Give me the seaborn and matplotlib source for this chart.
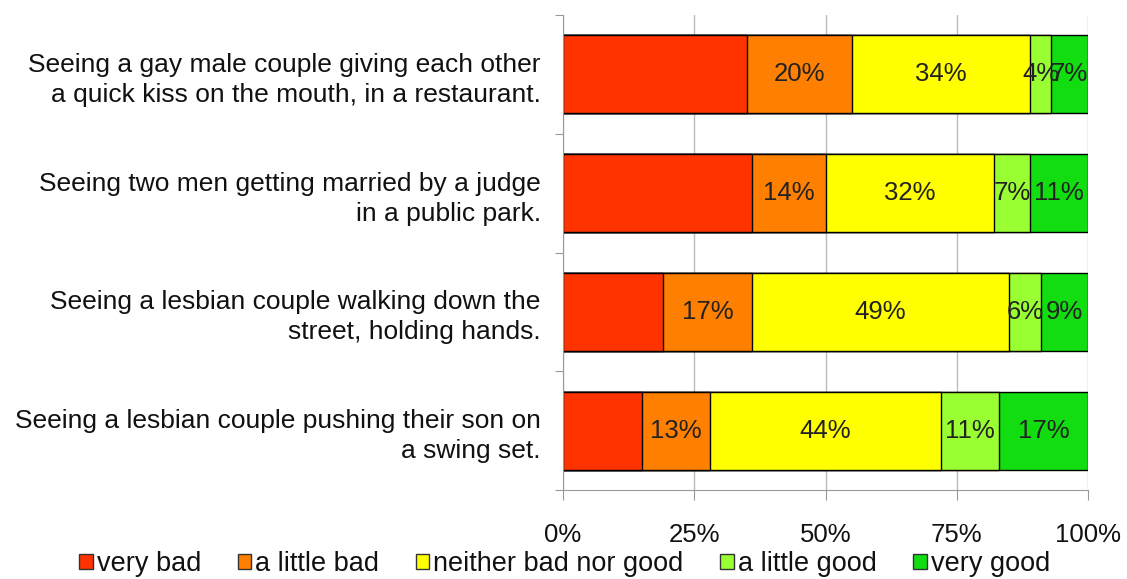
import numpy as np
import pandas as pd
import seaborn as sns
import matplotlib.pyplot as plt
from matplotlib.patches import Patch

sns.set_style('white')
plt.rcParams['font.family'] = ['Liberation Sans', 'DejaVu Sans']

statements = ['Seeing a gay male couple giving each other\na quick kiss on the mouth, in a restaurant.',
              'Seeing two men getting married by a judge\nin a public park.',
              'Seeing a lesbian couple walking down the\nstreet, holding hands.',
              'Seeing a lesbian couple pushing their son on\na swing set.']
responses = ['very bad', 'a little bad', 'neither bad nor good', 'a little good', 'very good']
very_bad = [35, 36, 19, 15]
little_bad = [20, 14, 17, 13]
neither = [34, 32, 49, 44]
little_good = [4, 7, 6, 11]
very_good = [7, 11, 9, 17]
colors = ['#FF3300', '#FF7F00', '#FFFF00', '#99FF33', '#11DD11']
x_ticks = [0, 25, 50, 75, 100]

df = pd.DataFrame({'statement': statements, 'very bad': very_bad, 'a little bad': little_bad,
                   'neither bad nor good': neither, 'a little good': little_good, 'very good': very_good})
cum = df[responses].cumsum(axis=1)

fig = plt.figure(figsize=(11.27, 5.79), dpi=100)
ax = fig.add_axes([0.4996, 0.1537, 0.4658, 0.8204])

# draw cumulative totals from the right so each layer covers the next
for resp, col in reversed(list(zip(responses, colors))):
    sns.barplot(x=cum[resp], y=df['statement'], orient='h', color=col, width=0.655,
                edgecolor='black', linewidth=1.0, saturation=1, ax=ax)

for i in range(len(df)):
    for j, resp in enumerate(responses):
        if j == 0:
            continue
        val = df.loc[i, resp]
        center = cum.loc[i, resp] - val / 2
        ax.text(center, i, f'{val}%', ha='center', va='center', fontsize=18.5, color='#222222')

for side in ['top', 'right']:
    ax.spines[side].set_visible(False)
for side in ['left', 'bottom']:
    ax.spines[side].set_color('#999999')

ax.set_xlim(0, 100)
ax.set_ylim(3.5, -0.5)
ax.set_xticks(x_ticks)
ax.set_xticklabels([f'{t}%' for t in x_ticks], fontsize=18.5, color='#111111')
ax.set_yticks(np.arange(-0.5, 4, 1))
ax.set_yticklabels([])
ax.set_yticks(range(len(statements)), minor=True)
ax.set_yticklabels(statements, minor=True, fontsize=19, color='#111111', linespacing=1.32, ha='right')
ax.set_xlabel('')
ax.set_ylabel('')

ax.grid(axis='x', color='#BBBBBB', linewidth=1)
ax.set_axisbelow(True)
ax.tick_params(axis='x', which='major', length=7, color='#999999', pad=17, direction='out', bottom=True)
ax.tick_params(axis='y', which='major', length=6, color='#999999', direction='out', left=True)
ax.tick_params(axis='y', which='minor', length=0, pad=16)

handles = [Patch(facecolor=c, edgecolor='#333333', label=r) for r, c in zip(responses, colors)]
fig.legend(handles=handles, loc='center', bbox_to_anchor=(0.501, 0.026), ncol=5, frameon=False,
           fontsize=19.5, handlelength=0.5, handleheight=0.5, handletextpad=0.15, columnspacing=1.35,
           labelcolor='#111111')

fig.savefig('out.png', dpi=100)
